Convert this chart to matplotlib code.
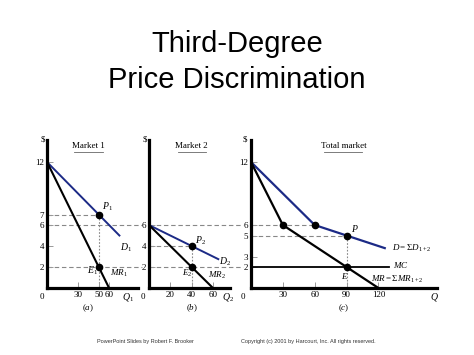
import matplotlib.pyplot as plt

plt.rcParams['font.family'] = 'Liberation Serif'
plt.rcParams['mathtext.fontset'] = 'custom'
plt.rcParams['mathtext.rm'] = 'Liberation Serif'
plt.rcParams['mathtext.it'] = 'Liberation Serif:italic'

# Market 1
q1_demand = [0, 70]
p1_demand = [12, 5]
q1_mr = [0, 60]
p1_mr = [12, 0]
q1_opt, p1_opt, mc = 50, 7, 2

# Market 2
q2_demand = [0, 65]
p2_demand = [6, 2.75]
q2_mr = [0, 60]
p2_mr = [6, 0]
q2_opt, p2_opt = 40, 4

# Total market (horizontal sums)
qt_demand = [0, 60, 126]
pt_demand = [12, 6, 3.8]
qt_mr = [0, 30, 120]
pt_mr = [12, 6, 0]
qt_opt, pt_opt = 90, 5
mc_end = 130

blue = '#1c2a86'
dash = dict(color='#888888', lw=0.8, dashes=(4, 2.5), clip_on=False, zorder=1)
vdash = dict(color='#888888', lw=0.8, dashes=(1.5, 1.5), zorder=1)

fig = plt.figure(figsize=(4.74, 3.55), dpi=100)
fig.text(0.5, 0.876, 'Third-Degree', ha='center', va='center',
         family='Liberation Sans', fontsize=21)
fig.text(0.5, 0.775, 'Price Discrimination', ha='center', va='center',
         family='Liberation Sans', fontsize=21)
fig.text(0.306, 0.039, 'PowerPoint Slides by Robert F. Brooker', ha='center',
         va='center', family='Liberation Sans', fontsize=4, color='#333333')
fig.text(0.65, 0.039, 'Copyright (c) 2001 by Harcourt, Inc. All rights reserved.',
         ha='center', va='center', family='Liberation Sans', fontsize=4, color='#333333')

ax1 = fig.add_axes([0.0992, 0.1887, 0.192, 0.417])
ax2 = fig.add_axes([0.3143, 0.1887, 0.171, 0.417])
ax3 = fig.add_axes([0.5295, 0.1887, 0.392, 0.417])


def setup(ax, xmax, xticks, yticks, title, tx, uw, qlab, qx, sub, zx):
    ax.set_xlim(0, xmax)
    ax.set_ylim(0, 14.1)
    for s in ('top', 'right'):
        ax.spines[s].set_visible(False)
    for s in ('left', 'bottom'):
        ax.spines[s].set_linewidth(2.3)
    ax.set_xticks(xticks)
    ax.set_yticks(yticks)
    ax.tick_params(direction='in', length=4, width=0.7, color='#999999',
                   labelsize=6.5, pad=2)
    ax.text(tx, 13.5, title, ha='center', va='center', fontsize=6.5)
    ax.plot([tx - uw, tx + uw], [12.95, 12.95], color='#666666', lw=0.6)
    ax.text(-0.02, 1.0, '$', transform=ax.transAxes, ha='right', va='center',
            fontsize=6.5)
    ax.text(zx, -0.85, '0', ha='center', va='center', fontsize=6.5, clip_on=False)
    ax.text(qx, -0.85, qlab, ha='center', va='center', fontsize=7)
    ax.text(tx, -1.95, sub, ha='center', va='center', fontsize=6.5)


# panel (a)
setup(ax1, 88, [30, 50, 60], [2, 4, 6, 7, 12], 'Market 1', 40, 14,
      r'$Q_1$', 78, r'$(a)$', -5)
ax1.plot([0, 92], [6, 6], **dash)
ax1.plot([0, 92], [mc, mc], **dash)
ax1.plot([0, q1_opt], [p1_opt, p1_opt], **dash)
ax1.plot([q1_opt, q1_opt], [p1_opt, 0], **vdash)
ax1.plot(q1_demand, p1_demand, color=blue, lw=1.4)
ax1.plot(q1_mr, p1_mr, color='black', lw=1.5)
ax1.plot([q1_opt, q1_opt], [p1_opt, mc], 'o', color='black', ms=4.5)
ax1.text(53, 7.5, r'$P_1$', fontsize=7)
ax1.text(71, 3.6, r'$D_1$', fontsize=7)
ax1.text(49, 1.35, r'$E_1$', fontsize=7, ha='right')
ax1.text(61, 1.2, r'$MR_1$', fontsize=6.5)

# panel (b)
setup(ax2, 76, [20, 40, 60], [2, 4, 6], 'Market 2', 40, 13,
      r'$Q_2$', 74, r'$(b)$', -5.6)
ax2.plot([0, 88], [6, 6], **dash)
ax2.plot([0, 88], [mc, mc], **dash)
ax2.plot([0, q2_opt], [p2_opt, p2_opt], **dash)
ax2.plot([q2_opt, q2_opt], [p2_opt, 0], **vdash)
ax2.plot(q2_demand, p2_demand, color=blue, lw=1.4)
ax2.plot(q2_mr, p2_mr, color='black', lw=1.5)
ax2.plot([q2_opt, q2_opt], [p2_opt, mc], 'o', color='black', ms=4.5)
ax2.text(43, 4.2, r'$P_2$', fontsize=7)
ax2.text(66, 2.2, r'$D_2$', fontsize=7)
ax2.text(41, 1.2, r'$E_2$', fontsize=6.5, ha='right')
ax2.text(55, 1.0, r'$MR_2$', fontsize=6.5)

# panel (c)
setup(ax3, 175, [30, 60, 90, 120], [2, 3, 5, 6, 12], 'Total market', 87, 18,
      r'$Q$', 173, r'$(c)$', -7.5)
ax3.plot([0, qt_demand[1]], [6, 6], **dash)
ax3.plot([0, qt_opt], [pt_opt, pt_opt], **dash)
ax3.plot([qt_opt, qt_opt], [pt_opt, 0], **vdash)
ax3.plot([0, mc_end], [mc, mc], color='black', lw=1.3)
ax3.plot(qt_demand, pt_demand, color=blue, lw=1.6)
ax3.plot(qt_mr, pt_mr, color='black', lw=1.6)
ax3.plot([qt_mr[1], qt_demand[1], qt_opt, qt_opt], [pt_mr[1], pt_demand[1], pt_opt, mc],
         'o', color='black', ms=4.5)
ax3.text(94, 5.3, r'$P$', fontsize=7)
ax3.text(133, 3.5, r'$D = \Sigma D_{1+2}$', fontsize=6.5)
ax3.text(134, 1.9, r'$MC$', fontsize=6.5)
ax3.text(85, 0.9, r'$E$', fontsize=6.5)
ax3.text(113, 0.6, r'$MR = \Sigma MR_{1+2}$', fontsize=6.5)

fig.savefig('out.png', dpi=100)
